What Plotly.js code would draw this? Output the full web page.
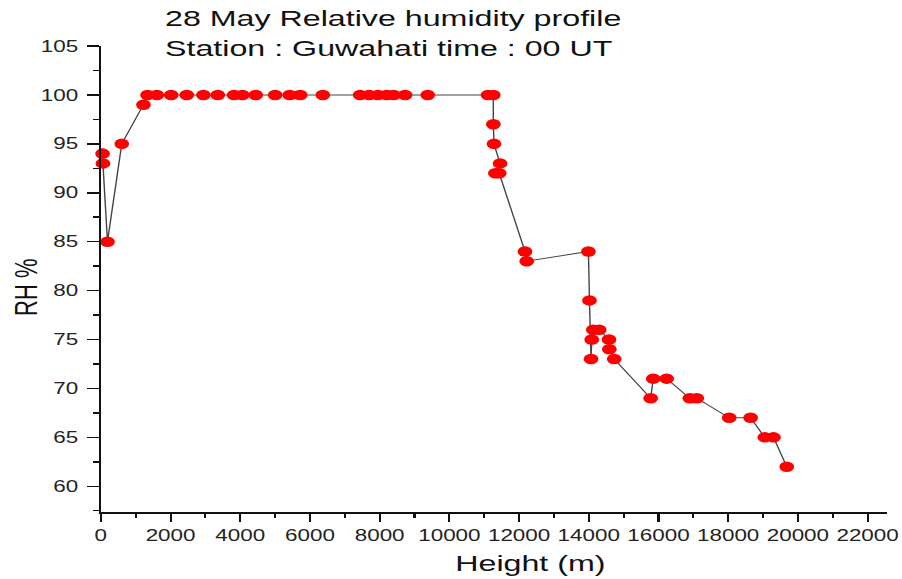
<!DOCTYPE html>
<html>
<head>
<meta charset="utf-8">
<script src="https://cdn.plot.ly/plotly-3.0.1.min.js"></script>
<style>
html,body{margin:0;padding:0;background:#fff;overflow:hidden;}
#wrap{width:902px;height:579px;overflow:hidden;}
#chart{width:644px;height:579px;transform:scaleX(1.4006);transform-origin:0 0;}
</style>
</head>
<body>
<div id="wrap"><div id="chart"></div></div>
<script>
// Height (m) of each sounding level
const heightM = [50, 60, 190, 600, 1222, 1340, 1606, 2017, 2466, 2944, 3356, 3824, 4062, 4445, 5000,
  5420, 5720, 6370, 7440, 7700, 7950, 8200, 8400, 8730, 9380, 11110, 11260, 11262, 11280, 11455,
  11320, 11430, 12170, 12220, 13990, 14020, 14065, 14085, 14130, 14300, 14580, 14590, 14730,
  15777, 15850, 16235, 16900, 17100, 18030, 18645, 19050, 19300, 19680];
// Relative humidity (%) at each level
const rhPct = [94, 93, 85, 95, 99, 100, 100, 100, 100, 100, 100, 100, 100, 100, 100,
  100, 100, 100, 100, 100, 100, 100, 100, 100, 100, 100, 100, 97, 95, 93,
  92, 92, 84, 83, 84, 79, 73, 75, 76, 76, 75, 74, 73,
  69, 71, 71, 69, 69, 67, 67, 65, 65, 62];

const titleLines = ["28 May Relative humidity profile", "Station : Guwahati time : 00 UT"];
const xTitle = "Height (m)";
const yTitle = "RH %";

const FONT = "Liberation Sans, Arial, sans-serif";

const trace = {
  x: heightM,
  y: rhPct,
  type: "scatter",
  mode: "lines+markers",
  cliponaxis: false,
  line: {color: "#444444", width: 1},
  marker: {color: "#ff0000", size: 10.5, line: {width: 0}},
  hoverinfo: "x+y"
};

const layout = {
  width: 644,
  height: 579,
  margin: {l: 72, r: 10.5, t: 45.7, b: 67.3, pad: 0},
  paper_bgcolor: "#ffffff",
  plot_bgcolor: "#ffffff",
  showlegend: false,
  font: {family: FONT, color: "#111111"},
  title: {
    text: titleLines.join("<br>"),
    font: {family: FONT, size: 23, color: "#111111"},
    xref: "container", yref: "container",
    x: 0.183, xanchor: "left",
    y: 0.955, yanchor: "top",
    pad: {t: 0, b: 0, l: 0, r: 0}
  },
  xaxis: {
    range: [0, 22545],
    tick0: 0, dtick: 2000,
    tickformat: "d", exponentformat: "none", separatethousands: false,
    ticks: "outside", ticklen: 8, tickwidth: 1.5, tickcolor: "#111",
    minor: {dtick: 1000, ticks: "outside", ticklen: 4, tickwidth: 1.5, tickcolor: "#111"},
    showline: true, linecolor: "#111", linewidth: 1.6,
    showgrid: false, zeroline: false,
    tickfont: {family: FONT, size: 16, color: "#222"},
    automargin: false
  },
  yaxis: {
    range: [57.37, 105],
    tick0: 60, dtick: 5,
    ticks: "outside", ticklen: 8.5, tickwidth: 1.5, tickcolor: "#111",
    ticklabelstandoff: 3,
    minor: {dtick: 2.5, ticks: "outside", ticklen: 4, tickwidth: 1.5, tickcolor: "#111"},
    showline: true, linecolor: "#111", linewidth: 1.5,
    showgrid: false, zeroline: false,
    tickfont: {family: FONT, size: 16, color: "#222"},
    automargin: false
  },
  annotations: [
    {text: xTitle, xref: "paper", yref: "paper", x: 0.547, y: -0.110,
     xanchor: "center", yanchor: "middle", showarrow: false,
     font: {family: FONT, size: 23, color: "#111"}},
    {text: yTitle, xref: "paper", yref: "paper", x: -0.0952, y: 0.482,
     xanchor: "center", yanchor: "middle", showarrow: false, textangle: -90,
     font: {family: FONT, size: 22, color: "#111"}}
  ]
};

Plotly.newPlot("chart", [trace], layout, {displayModeBar: false, staticPlot: true});
</script>
</body>
</html>
